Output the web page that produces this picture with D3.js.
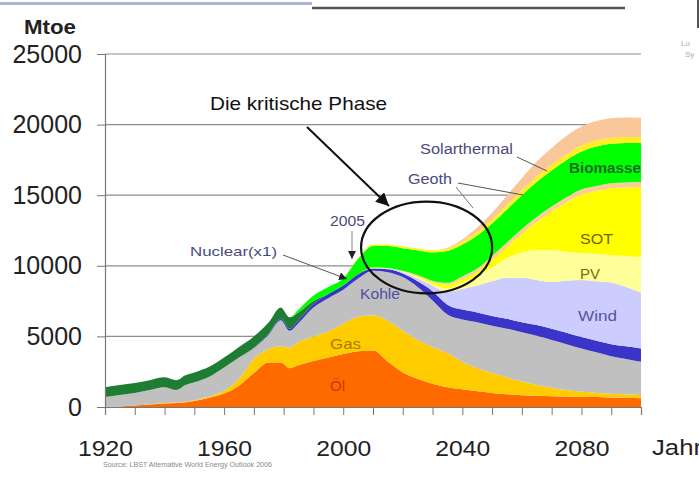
<!DOCTYPE html>
<html><head><meta charset="utf-8">
<script src="https://cdn.jsdelivr.net/npm/d3@7/dist/d3.min.js"></script>
<style>body{margin:0;background:#fff;} svg{display:block;font-family:"Liberation Sans",Arial,Helvetica,sans-serif;}</style>
</head><body><svg id="c" width="699" height="487"></svg>
<script>
const years = [1920,1925,1930,1935,1940,1944,1947,1950,1955,1960,1965,1970,1975,1979,1982,1985,1990,1995,2000,2005,2010,2015,2020,2025,2030,2035,2040,2045,2050,2055,2060,2065,2070,2075,2080,2085,2090,2095,2100];
const oel = [0,30,100,180,250,280,330,420,650,950,1500,2400,3150,3150,2750,2950,3250,3500,3750,3950,4000,3200,2450,2000,1650,1400,1250,1120,1000,900,830,790,760,740,720,700,680,650,620];
const gas = [0,0,10,20,30,30,40,60,100,200,500,1000,950,1150,1450,1650,1750,1850,2150,2450,2500,2900,2950,2750,2600,2400,1950,1630,1400,1200,970,760,590,460,360,300,260,240,230];
const kohle = [700,820,890,1000,1120,890,1180,1270,1400,1650,1500,780,1040,1850,1200,1350,2050,2350,2400,2700,3150,3450,3800,3750,3300,2750,3000,3250,3350,3450,3500,3500,3400,3250,3070,2880,2660,2510,2350];
const nuclear = [0,0,0,0,0,0,0,0,0,0,0,20,60,100,150,200,250,300,300,300,150,200,250,400,650,700,700,700,700,700,700,750,800,800,800,820,850,900,950];
const wind = [0,0,0,0,0,0,0,0,0,0,0,0,0,0,0,0,0,0,0,0,50,50,100,200,400,900,1450,1900,2450,2900,3150,3200,3300,3700,4050,4200,4350,4200,3950];
const pv = [0,0,0,0,0,0,0,0,0,0,0,0,0,0,0,0,0,0,0,0,0,0,50,100,100,250,450,700,1000,1400,1800,2100,2250,2050,1900,1950,1950,2200,2520];
const sot = [0,0,0,0,0,0,0,0,0,0,0,0,0,0,0,0,0,0,0,0,50,30,0,70,150,250,250,250,520,800,1330,2020,2760,3500,4150,4450,4750,4850,4960];
const geoth = [0,0,0,0,0,0,0,0,0,0,0,0,0,0,0,0,0,0,0,0,0,20,50,80,100,150,200,250,280,300,320,330,340,350,350,350,350,350,350];
const biomasseTrad = [700,700,700,700,700,700,700,700,700,700,750,800,800,800,800,550,200,0,0,0,0,0,0,0,0,0,0,0,0,0,0,0,0,0,0,0,0,0,0];
const biomasse = [0,0,0,0,0,0,0,0,0,0,0,0,0,0,0,200,400,500,500,1100,1500,1550,1600,1750,2000,2250,2250,2350,2300,2350,2400,2500,2550,2650,2700,2800,2800,2800,2770];
const wasser = [0,0,0,0,0,0,0,0,0,0,0,0,0,0,0,0,0,0,0,50,100,100,120,130,150,180,220,260,300,330,360,380,400,410,420,420,420,430,430];
const solarthermal = [0,0,0,0,0,0,0,0,0,0,0,0,0,0,0,0,0,0,0,0,0,0,0,0,0,50,150,300,450,650,850,1050,1200,1300,1350,1380,1380,1370,1350];

const seriesKeys = ["Öl","Gas","Kohle","Nuclear","Wind","PV","SOT","Geoth","BiomasseTrad","Biomasse","Wasser","Solarthermal"];
const seriesData = [oel,gas,kohle,nuclear,wind,pv,sot,geoth,biomasseTrad,biomasse,wasser,solarthermal];
const seriesColors = ["#FF6A00","#FFCC00","#C0C0C0","#3A34C8","#CCCCFF","#FFFF99","#FFFF00","#FFCC99","#1E7D32","#00FF00","#FFEE22","#F9C79A"];
const yTicks = [0,5000,10000,15000,20000,25000];
const xTickYears = d3.range(1920, 2101, 10);
const xLabelYears = [1920,1960,2000,2040,2080];

const rows = years.map((yr,i) => {
  const r = {year: yr};
  seriesKeys.forEach((k,j) => r[k] = seriesData[j][i]);
  return r;
});

const svg = d3.select("#c");
const x = d3.scaleLinear().domain([1920,2100]).range([105,641]);
const y = d3.scaleLinear().domain([0,25000]).range([407,54]);

// header lines
svg.append("line").attr("x1",0).attr("x2",312).attr("y1",3.5).attr("y2",3.5).attr("stroke","#a9b5d9").attr("stroke-width",3);
svg.append("line").attr("x1",312).attr("x2",625).attr("y1",8).attr("y2",8).attr("stroke","#555").attr("stroke-width",2.5);
svg.append("rect").attr("x",697).attr("y",0).attr("width",2).attr("height",28).attr("fill","#555");
svg.append("text").attr("x",681).attr("y",46).attr("font-size",8).attr("fill","#aaa").text("Lu");
svg.append("text").attr("x",685).attr("y",57).attr("font-size",8).attr("fill","#aaa").text("Sy");

// grid
svg.append("g").selectAll("line").data(yTicks.filter(d=>d>0)).join("line")
  .attr("x1",105).attr("x2",641).attr("y1",d=>y(d)).attr("y2",d=>y(d))
  .attr("stroke","#8e8e8e").attr("stroke-width",1.2);

// stacked areas
const stack = d3.stack().keys(seriesKeys)(rows);
const area = d3.area().x(d=>x(d.data.year)).y0(d=>y(d[0])).y1(d=>y(d[1])).curve(d3.curveMonotoneX);
svg.append("g").selectAll("path").data(stack).join("path")
  .attr("d", area).attr("fill",(d,i)=>seriesColors[i]);

// axes
const yAxis = d3.axisLeft(y).tickValues(yTicks).tickSize(8).tickPadding(15).tickFormat(d3.format("d"));
const gy = svg.append("g").attr("transform","translate(105,0)").call(yAxis);
gy.select(".domain").attr("stroke","#777").attr("stroke-width",1.2);
gy.selectAll(".tick line").attr("stroke","#777");
gy.selectAll("text").attr("font-size",25).attr("fill","#222").attr("font-family","Liberation Sans, Arial, sans-serif");

const xAxis = d3.axisBottom(x).tickValues(xTickYears).tickSize(8).tickPadding(25)
  .tickFormat(d => xLabelYears.includes(d) ? String(d) : "");
const gx = svg.append("g").attr("transform","translate(0,407)").call(xAxis);
gx.select(".domain").attr("stroke","#777").attr("stroke-width",1.2);
gx.selectAll(".tick line").attr("stroke","#777");
gx.selectAll("text").attr("font-size",22).attr("fill","#222").attr("font-family","Liberation Sans, Arial, sans-serif")
  .each(function(d){ if (xLabelYears.includes(d)) d3.select(this).attr("textLength",55).attr("lengthAdjust","spacingAndGlyphs"); });

svg.append("text").attr("x",24).attr("y",34).attr("font-size",21).attr("font-weight","bold").attr("fill","#222")
  .attr("textLength",52).attr("lengthAdjust","spacingAndGlyphs").text("Mtoe");
svg.append("text").attr("x",652).attr("y",455).attr("font-size",22).attr("fill","#222")
  .attr("textLength",50).attr("lengthAdjust","spacingAndGlyphs").text("Jahr");
svg.append("text").attr("x",103).attr("y",467).attr("font-size",8).attr("fill","#888")
  .attr("textLength",169).attr("lengthAdjust","spacingAndGlyphs").text("Source: LBST Alternative World Energy Outlook 2006");

// markers
const defs = svg.append("defs");
function marker(id, size, color){
  defs.append("marker").attr("id",id).attr("viewBox","0 0 10 10").attr("refX",10).attr("refY",5)
    .attr("markerWidth",size).attr("markerHeight",size).attr("markerUnits","userSpaceOnUse").attr("orient","auto")
    .append("path").attr("d","M0,0 L10,5 L0,10 z").attr("fill",color);
}
marker("big",13,"#111");
marker("small",8,"#222");

// ellipse (critical phase)
svg.append("ellipse").attr("cx",x(2028)).attr("cy",y(11300)).attr("rx",x(2050)-x(2028)).attr("ry",y(8050)-y(11300))
  .attr("fill","none").attr("stroke","#111").attr("stroke-width",2.2);

// annotations
svg.append("line").attr("x1",307).attr("y1",127).attr("x2",389).attr("y2",206).attr("stroke","#111").attr("stroke-width",2).attr("marker-end","url(#big)");
svg.append("line").attr("x1",352).attr("y1",231).attr("x2",352).attr("y2",259).attr("stroke","#999").attr("stroke-width",1.2).attr("marker-end","url(#small)");
svg.append("line").attr("x1",283).attr("y1",255).attr("x2",347).attr("y2",279).attr("stroke","#555").attr("stroke-width",1).attr("marker-end","url(#small)");
svg.append("line").attr("x1",517).attr("y1",157).attr("x2",547).attr("y2",171).attr("stroke","#555").attr("stroke-width",1);
svg.append("line").attr("x1",458).attr("y1",183).attr("x2",523).attr("y2",195).attr("stroke","#555").attr("stroke-width",1);
svg.append("line").attr("x1",456).attr("y1",187).attr("x2",473).attr("y2",208).attr("stroke","#777").attr("stroke-width",1);

const labels = [
  {t:"Die kritische Phase", x:210, y:110, s:19, c:"#111", w:177},
  {t:"2005", x:330, y:226, s:14, c:"#4a4a80", w:35},
  {t:"Nuclear(x1)", x:190, y:256, s:13, c:"#4a4a80", w:87},
  {t:"Solarthermal", x:420, y:154, s:14, c:"#4a4a80", w:93},
  {t:"Geoth", x:408, y:184, s:14, c:"#4a4a80", w:44},
  {t:"Biomasse", x:569, y:173, s:14, c:"#136b23", w:72, b:true},
  {t:"SOT", x:580, y:244, s:14, c:"#6e6200", w:33},
  {t:"PV", x:580, y:279, s:14, c:"#7a6e00", w:20},
  {t:"Wind", x:578, y:321, s:14, c:"#55559e", w:39},
  {t:"Kohle", x:360, y:299, s:14, c:"#4f4fa6", w:40},
  {t:"Gas", x:330, y:349, s:15, c:"#b07a00", w:31},
  {t:"Öl", x:330, y:391, s:15, c:"#c83800", w:15}
];
svg.append("g").selectAll("text").data(labels).join("text")
  .attr("x",d=>d.x).attr("y",d=>d.y).attr("font-size",d=>d.s).attr("fill",d=>d.c)
  .attr("font-weight",d=>d.b?"bold":"normal")
  .attr("textLength",d=>d.w).attr("lengthAdjust","spacingAndGlyphs").text(d=>d.t);
</script></body></html>
